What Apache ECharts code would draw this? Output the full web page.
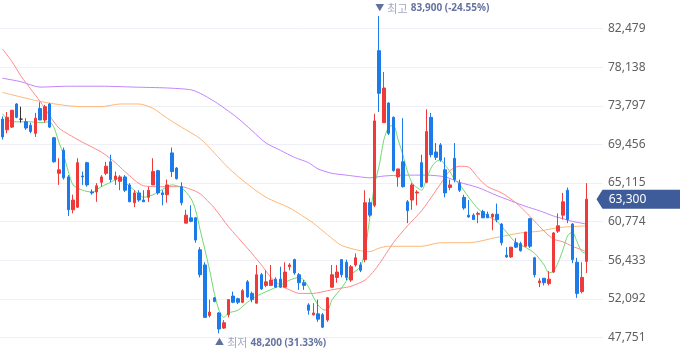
<!DOCTYPE html>
<html><head><meta charset="utf-8">
<script src="https://cdn.jsdelivr.net/npm/echarts@6/dist/echarts.min.js"></script>
<style>html,body{margin:0;padding:0;background:#fff}#c{width:680px;height:358px}</style>
</head><body><div id="c"></div>
<script>
// ---- data ----
// each candle: [open, close, low, high]
const ohlc = [
[72300,70300,70000,72600],[71100,72500,70700,73100],[71400,73300,71300,73300],[74000,72500,72400,74100],[72300,72300,71900,73700],
[72000,71300,71100,72400],[71600,70900,70700,71900],[70700,72400,70300,73000],[73500,72200,72200,74200],[72200,73700,71900,73900],
[74000,71400,71300,74100],[70200,67500,67400,70300],[66200,66600,64900,67900],[68800,65700,65500,69100],[65800,62100,61400,66000],
[62100,63200,61700,63800],[62400,67400,62300,67900],[65900,65800,64900,66400],[67400,64900,64700,67500],[64100,64000,63800,64400],
[64100,64800,63000,65100],[65200,65800,64700,66000],[66200,67000,66000,67500],[67500,65500,65200,68300],[65500,65900,64900,66400],
[65300,65800,64300,66000],[65800,64300,64100,66000],[64900,63000,63000,65100],[62900,64000,62400,64300],[64000,63200,63000,64300],
[63200,63000,63000,64300],[63500,64300,63000,64700],[64900,66400,64900,67900],[66500,64000,63800,66600],[64000,63800,62600,64300],
[63800,64900,62900,65500],[68500,66400,65800,69100],[66800,65600,65500,66900],[64700,62900,62600,65200],[60600,61500,60600,62100],
[61200,60800,60700,62600],[61200,58700,58400,61300],[57600,54800,54500,57900],[55900,50000,50000,56200],[50200,50600,50000,52000],
[52200,51800,51700,52300],[50500,48700,48200,50600],[48800,49400,48700,49700],[50300,52000,50000,52000],[52400,51700,51600,52900],
[52100,51700,51500,52200],[51700,53000,51600,53200],[54000,52300,52200,54200],[52700,52000,51700,52900],[51600,54800,51600,55900],
[54800,53200,53100,55000],[53600,54000,53400,55300],[53600,54200,53600,55900],[54300,53400,53300,54500],[54300,53400,53300,55700],
[53400,55100,53400,56200],[55700,55900,55300,56100],[56500,55000,54800,56600],[54800,53900,53100,55000],[53900,53600,53100,54200],
[51400,50800,50300,51600],[50300,50500,50200,51600],[50400,49800,49500,52000],[50300,48900,48800,50500],[49700,52200,49500,52300],
[53400,54800,53300,55900],[54500,55100,53900,55900],[56500,54800,54500,56500],[56200,54500,54200,56500],[54200,55700,54000,55900],
[55900,56700,55700,57200],[55900,55300,55100,56200],[56500,62900,56200,64300],[62900,61500,61300,63400],[62600,72100,62400,72900],
[80000,75200,73100,83900],[71900,75800,71900,77600],[74100,70700,70500,74200],[72500,66500,66400,72600],[65800,66700,64700,66700],
[67500,64700,64600,72400],[63000,62000,60600,63200],[63200,64900,62100,65100],[64000,64100,62600,64300],[67400,64700,64600,68300],
[65200,70900,65100,73400],[72500,68300,68000,73000],[68600,68000,67700,69600],[69400,67700,67500,69600],[66600,64000,63500,68000],
[64600,64900,64300,65500],[67900,65500,65200,69600],[65100,64300,64100,65500],[63500,62300,62100,63800],[61500,61300,61200,63200],
[61500,61000,61000,61700],[61600,61700,60600,61900],[61900,61200,61200,62100],[61600,61200,61200,61900],[61300,61600,59800,61700],
[61600,61000,60700,62800],[60500,58400,58100,60600],[57000,56800,56700,57900],[56800,57900,56700,57900],[58400,57900,57800,58900],
[58300,57500,57400,58500],[58000,59600,57900,59600],[61100,58000,57800,61200],[56700,54800,54500,56800],[53900,54100,53400,54400],
[54400,53900,53600,54400],[53800,54300,53600,55200],[55100,59500,55000,59600],[59700,60300,59500,61700],[61500,63000,61000,64000],
[64300,61000,60600,64600],[60500,56500,56100,60600],[56200,52700,52200,56700],[52900,54500,52700,56200],[56300,63300,55000,65100]
];
const emptySlots = 3; // free space right of the last candle
const categories = Array.from({length: ohlc.length + emptySlots}, (_, i) => String(i + 1));

// moving averages: [candle index, value]
const ma5 = [[0,72900],[2,72000],[4,72000],[6,72000],[8,71900],[10,72000],[11,71300],[12,69700],[13,68300],[14,66400],[15,64900],[17,64300],[19,64100],[21,64700],[23,65200],[25,65700],[26,65200],[28,64300],[30,63500],[32,63800],[34,64400],[36,64900],[38,64600],[40,63400],[41,62100],[42,59800],[43,57600],[44,55300],[45,52700],[46,50800],[47,50000],[48,50500],[50,50800],[52,51700],[54,52400],[56,52900],[59,53600],[61,54200],[63,54500],[64,54200],[65,53400],[66,52300],[67,51400],[68,50900],[69,50800],[70,52000],[72,53300],[74,54800],[76,55700],[77,57600],[78,61200],[79,64900],[80,67100],[81,70000],[82,71400],[83,71600],[84,70000],[85,68300],[86,66400],[87,65100],[88,64600],[89,64300],[90,65500],[91,66800],[92,67500],[93,67700],[94,67100],[95,66400],[96,65500],[97,65000],[99,63500],[101,62200],[103,61400],[105,60800],[107,59600],[109,58400],[111,57900],[113,57200],[115,55900],[116,55000],[117,55200],[118,56200],[119,57600],[120,59200],[121,59600],[122,58500],[123,57400],[124,57200]];
const ma20 = [[0,80200],[2,78800],[4,77100],[6,75700],[8,74300],[10,72700],[12,71300],[14,70600],[17,69700],[21,68600],[24,67400],[26,66400],[30,64800],[34,64700],[38,64700],[40,64400],[42,63900],[45,62300],[48,60200],[52,57800],[55,55900],[57,54500],[59,53600],[61,53100],[63,52700],[66,52700],[69,53000],[72,53300],[74,53500],[77,54200],[79,55300],[81,56800],[83,58400],[86,60300],[89,62000],[93,65000],[95,66500],[97,67000],[99,66900],[101,65700],[103,64700],[106,64000],[109,62900],[111,61900],[113,60800],[115,59700],[117,58800],[119,58500],[121,58000],[123,57600],[124,57400]];
const ma60 = [[0,75300],[7,74400],[10,74100],[14,73800],[17,73700],[21,73700],[25,74000],[29,74000],[32,73500],[35,72400],[38,71400],[42,70100],[45,68500],[48,66800],[52,65000],[56,63500],[61,62300],[66,60600],[69,59300],[72,58100],[76,57500],[78,57400],[80,57800],[82,58000],[89,58000],[93,58400],[99,58400],[105,59000],[110,59500],[114,59700],[118,60100],[124,60300]];
const ma120 = [[0,76900],[4,76500],[8,75900],[14,76000],[21,76000],[28,75900],[35,75800],[40,75600],[42,75200],[45,74300],[48,73200],[50,72400],[53,71000],[56,69600],[59,68800],[62,68000],[65,67400],[67,66700],[70,66200],[73,66000],[76,65800],[78,65700],[81,65900],[85,66000],[90,66000],[94,65800],[97,65200],[101,64600],[105,63700],[108,63100],[111,62500],[114,62000],[117,61400],[119,61100],[121,60800],[124,60500]];

const yMin = 43410, yMax = 86820, yInterval = 4341;
// ---------------------------------------------

const fmt = v => Math.round(v).toLocaleString('en-US');
const lastIdx = ohlc.length - 1;
const lastClose = ohlc[lastIdx][1];
let hiIdx = 0, loIdx = 0;
ohlc.forEach((d, i) => { if (d[3] > ohlc[hiIdx][3]) hiIdx = i; if (d[2] < ohlc[loIdx][2]) loIdx = i; });
const hi = ohlc[hiIdx][3], lo = ohlc[loIdx][2];
const hiPct = ((lastClose / hi - 1) * 100).toFixed(2);
const loPct = ((lastClose / lo - 1) * 100).toFixed(2);

const FONT = "'Noto Sans', 'Noto Sans CJK KR', sans-serif";
const chart = echarts.init(document.getElementById('c'));
const rich = {
  t: {color: '#60709f', fontSize: 9, fontFamily: FONT},
  a: {color: '#a0a8bf', fontSize: 11, fontFamily: "'Noto Sans CJK KR', sans-serif"},
  b: {color: '#6573a0', fontSize: 10, fontWeight: 'bold', fontFamily: FONT}
};
const maLine = (name, data, color) => ({
  name, type: 'line', data, showSymbol: false, smooth: 0.25, silent: true,
  lineStyle: {width: 1, color}, z: 1
});

chart.setOption({
  animation: false,
  textStyle: {fontFamily: FONT},
  grid: {left: 0, right: 77, top: -10, bottom: -18, outerBoundsMode: 'none', containLabel: false},
  xAxis: {type: 'category', data: categories, boundaryGap: true, show: false},
  yAxis: {
    type: 'value', position: 'right', min: yMin, max: yMax, interval: yInterval,
    axisLine: {show: false}, axisTick: {show: false},
    splitLine: {lineStyle: {color: '#eef0f6', width: 1}},
    axisLabel: {color: '#5f5f5f', fontSize: 12, margin: 5, showMinLabel: false, showMaxLabel: false,
      formatter: v => fmt(v)}
  },
  series: [
    maLine('MA120', ma120, '#c084fc'),
    maLine('MA60', ma60, '#ffb574'),
    maLine('MA20', ma20, '#ff8a8a'),
    maLine('MA5', ma5, '#6fd86f'),
    {
      name: 'price', type: 'candlestick', data: ohlc, barWidth: 3, z: 3,
      itemStyle: {
        color: '#ef3a3a', color0: '#1c7bea',
        borderColor: '#ef3a3a', borderColor0: '#1c7bea', borderColorDoji: '#333333', borderWidth: 1
      },
      markPoint: {
        silent: true, animation: false,
        data: [
          {
            coord: [hiIdx, hi], symbol: 'circle', symbolSize: 1, itemStyle: {color: 'rgba(0,0,0,0)'},
            label: {show: true, position: 'top', distance: 1, align: 'left', offset: [-4, 0],
              formatter: `{t|▼} {a|최고} {b|${fmt(hi)} (${hiPct}%)}`, rich}
          },
          {
            coord: [loIdx, lo], symbol: 'circle', symbolSize: 1, itemStyle: {color: 'rgba(0,0,0,0)'},
            label: {show: true, position: 'bottom', distance: 3, align: 'left', offset: [-4, 0],
              formatter: `{t|▲} {a|최저} {b|${fmt(lo)} (${loPct}%)}`, rich}
          },
          {
            coord: [lastIdx, lastClose], symbol: 'path://M0,9 L6,0 L90,0 L90,18 L6,18 Z',
            symbolSize: [90, 19], symbolOffset: [55, 0], symbolKeepAspect: false,
            itemStyle: {color: '#3f5c9a'},
            label: {show: true, position: 'inside', offset: [-14, 0], color: '#ffffff', fontSize: 12,
              fontFamily: FONT, formatter: () => fmt(lastClose)}
          }
        ]
      }
    }
  ]
});
</script></body></html>
